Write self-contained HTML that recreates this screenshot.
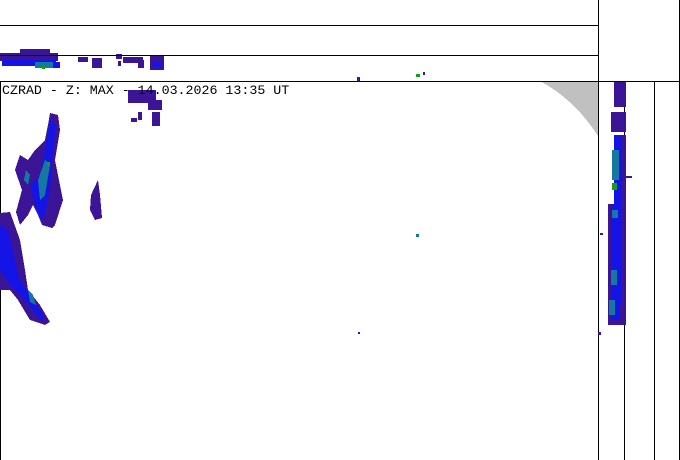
<!DOCTYPE html>
<html><head><meta charset="utf-8"><style>
html,body{margin:0;padding:0;background:#fff;}
svg{display:block}
</style></head><body>
<svg width="680" height="460" viewBox="0 0 680 460" xmlns="http://www.w3.org/2000/svg" shape-rendering="crispEdges">
<rect width="680" height="460" fill="#fff"/>
<!-- gray wedge -->
<path d="M540 81 L598 81 L598 136 Q575 100 540 81 Z" fill="#c0c0c0"/>
<!-- top strip echoes -->
<g fill="#3c1496">
<rect x="0" y="53" width="58" height="8"/><rect x="20" y="49" width="30" height="5"/>
<rect x="78" y="57" width="10" height="5"/><rect x="92" y="58" width="10" height="10"/>
<rect x="116" y="54" width="6" height="5"/><rect x="118" y="61" width="3" height="5"/>
<rect x="123" y="57" width="20" height="6"/><rect x="138" y="60" width="6" height="8"/>
<rect x="150" y="55" width="14" height="15"/><rect x="128" y="90" width="28" height="13"/>
<rect x="148" y="100" width="14" height="10"/><rect x="152" y="112" width="8" height="14"/>
<rect x="138" y="112" width="4" height="8"/><rect x="131" y="118" width="6" height="4"/>
<rect x="357" y="77" width="3" height="4"/><rect x="423" y="72" width="2" height="3"/>
</g>
<g fill="#1414e6">
<rect x="2" y="60" width="54" height="6"/><rect x="40" y="62" width="20" height="6"/>
<rect x="153" y="62" width="8" height="5"/>
</g>
<rect x="35" y="62" width="18" height="6" fill="#1478a0"/>
<rect x="42" y="66" width="3" height="3" fill="#14a014"/>
<rect x="416" y="74" width="4" height="3" fill="#14a014"/>
<!-- frame lines -->
<g stroke="#000" stroke-width="1" fill="none">
<line x1="0" y1="25.5" x2="598" y2="25.5"/>
<line x1="0" y1="55.5" x2="598" y2="55.5"/>
<line x1="0" y1="81.5" x2="680" y2="81.5"/>
<line x1="598.5" y1="0" x2="598.5" y2="460"/>
<line x1="624.5" y1="81" x2="624.5" y2="460"/>
<line x1="654.5" y1="81" x2="654.5" y2="460"/>
<line x1="679.5" y1="0" x2="679.5" y2="460"/>
<line x1="0.5" y1="81" x2="0.5" y2="460"/>
</g>
<text x="2" y="94" font-family="Liberation Mono, monospace" font-size="13.3" fill="#000">CZRAD - Z: MAX - 14.03.2026 13:35 UT</text>
<!-- left echoes -->
<g fill="#3c1496">
<polygon points="50,113 58,115 60,130 55,160 60,185 63,200 55,225 52,228 42,225 38,215 33,205 28,215 20,225 16,212 22,190 15,170 20,155 28,160 35,150 45,140 48,125"/>
<polygon points="0,213 10,212 20,240 25,270 28,290 40,305 50,322 45,325 30,320 18,300 10,290 0,290"/>
<polygon points="91,195 98,180 100,195 102,218 95,220 90,210"/>
<polygon points="16,230 22,260 20,270 10,240"/>
</g>
<g fill="#1414e6">
<polygon points="50,120 56,125 52,160 50,190 45,215 40,220 35,205 30,185 40,175 45,150"/>
<polygon points="0,225 8,230 15,260 20,280 30,295 45,318 40,320 25,300 10,285 0,270"/>
</g>
<g fill="#1478a0">
<polygon points="45,160 50,165 45,195 40,200 38,180"/>
<polygon points="26,170 30,175 28,185 24,180"/>
<polygon points="28,290 33,295 36,305 30,302"/>
</g>
<rect x="47" y="162" width="3" height="4" fill="#14a014"/>
<!-- small central echo -->
<rect x="416" y="234" width="3" height="3" fill="#1478a0"/>
<rect x="358" y="332" width="2" height="2" fill="#3c1496"/>
<!-- right column echoes -->
<g fill="#3c1496">
<rect x="614" y="82" width="12" height="25"/><rect x="611" y="112" width="15" height="20"/>
<rect x="614" y="135" width="12" height="100"/><rect x="608" y="204" width="18" height="60"/>
<rect x="608" y="235" width="18" height="90"/><rect x="624" y="176" width="8" height="2"/>
<rect x="600" y="233" width="3" height="2"/><rect x="598" y="332" width="3" height="3"/>
</g>
<g fill="#1414e6">
<rect x="614" y="135" width="8" height="70"/><rect x="611" y="205" width="10" height="100"/>
<rect x="612" y="300" width="8" height="20"/>
</g>
<g fill="#1478a0">
<rect x="612" y="150" width="7" height="30"/><rect x="612" y="210" width="6" height="8"/>
<rect x="611" y="270" width="6" height="15"/><rect x="609" y="300" width="6" height="15"/>
</g>
<rect x="612" y="183" width="5" height="7" fill="#14a014"/>
</svg>
</body></html>
